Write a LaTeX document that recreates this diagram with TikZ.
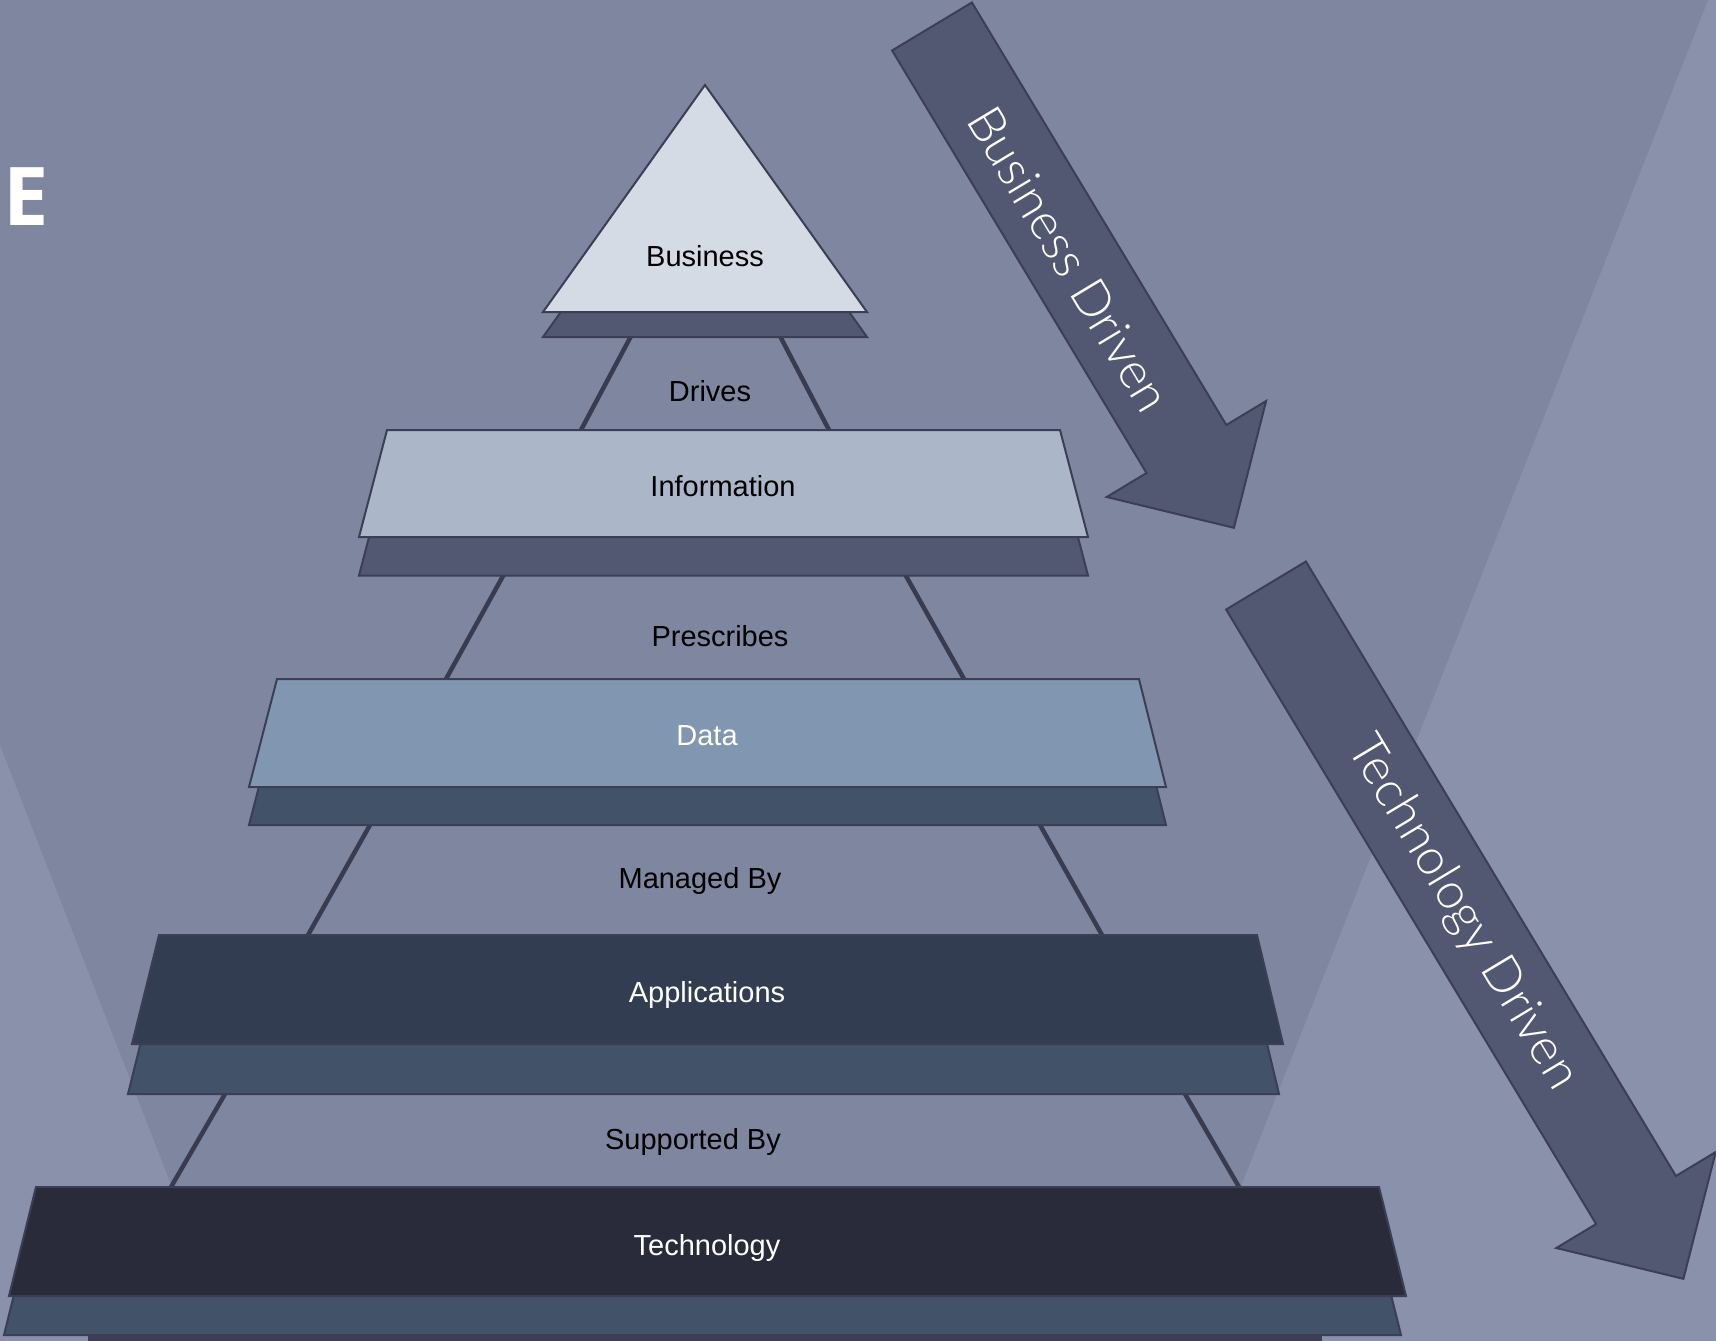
\documentclass[tikz,border=0pt]{standalone}
\usepackage{fontspec}
\setmainfont{Liberation Sans}
\newfontfamily\efont{Open Sans}
\IfFontExistsTF{Lato Light}{\newfontfamily\lightfont{Lato Light}}{\newfontfamily\lightfont{Liberation Sans}}
\usetikzlibrary{calc}
\definecolor{bgdark}{HTML}{7F87A0}
\definecolor{bglight}{HTML}{8A91AA}
\definecolor{outl}{HTML}{3B3E54}
\definecolor{connc}{HTML}{393C50}
\definecolor{arrfill}{HTML}{535872}
\definecolor{trifill}{HTML}{D5DBE5}
\definecolor{infofill}{HTML}{ABB6C9}
\definecolor{datafill}{HTML}{8196B0}
\definecolor{appfill}{HTML}{333D51}
\definecolor{techfill}{HTML}{292B3A}
\definecolor{shadowA}{HTML}{535872}
\definecolor{shadowB}{HTML}{425268}
\begin{document}
\begin{tikzpicture}[x=1pt,y=-1pt,
  layer/.style={draw=outl, line width=2pt, line join=miter},
  conn/.style={draw=connc, line width=4.5pt},
  lbl/.style={font=\fontsize{29}{34}\selectfont, inner sep=0pt},
  arrowshape/.style={fill=arrfill, draw=outl, line width=2pt, line join=miter},
  arrtext/.style={font=\lightfont\fontsize{50}{60}\selectfont, text=white, rotate=-59, inner sep=0pt}]
\useasboundingbox (0,0) rectangle (1716,1341);
% background
\fill[bglight] (0,0) rectangle (1716,1341);
\fill[bgdark] (0,0) -- (1708,0) -- (1180,1341) -- (232,1341) -- (0,745) -- cycle;

% title fragment
\node[font=\efont\bfseries\fontsize{81}{90}\selectfont, text=white, inner sep=0pt, anchor=base west] (title) at (3,225) {E};

% connector endpoints
\coordinate (b1) at (630,338); \coordinate (i1) at (581,430);
\coordinate (b2) at (781,338); \coordinate (i2) at (829,430);
\coordinate (i3) at (503,576); \coordinate (d1) at (446,679);
\coordinate (i4) at (906,576); \coordinate (d2) at (964,679);
\coordinate (d3) at (370,825); \coordinate (a1) at (308,935);
\coordinate (d4) at (1040,825); \coordinate (a2) at (1102,935);
\coordinate (a3) at (225,1094); \coordinate (t1) at (171,1187);
\coordinate (a4) at (1185,1094); \coordinate (t2) at (1239,1187);
\foreach \p/\q in {b1/i1,b2/i2,i3/d1,i4/d2,d3/a1,d4/a2,a3/t1,a4/t2}
  \draw[conn] ($(\p)!-8pt!(\q)$) -- ($(\q)!-6pt!(\p)$);

% bottom strip
\fill[outl] (88,1336) rectangle (1322,1345);

% Business triangle
\draw[layer, fill=shadowA] (705,110) -- (867,337) -- (543,337) -- cycle;
\draw[layer, fill=trifill] (705,85) -- (867,312) -- (543,312) -- cycle;
% Information
\draw[layer, fill=shadowA] (387,468.5) -- (1060,468.5) -- (1088,575.5) -- (359,575.5) -- cycle;
\draw[layer, fill=infofill] (387,430) -- (1060,430) -- (1088,537) -- (359,537) -- cycle;
% Data
\draw[layer, fill=shadowB] (277,717) -- (1139,717) -- (1166,825) -- (249,825) -- cycle;
\draw[layer, fill=datafill] (277,679) -- (1139,679) -- (1166,787) -- (249,787) -- cycle;
% Applications
\draw[layer, fill=shadowB] (155,985) -- (1253,985) -- (1279,1094) -- (128,1094) -- cycle;
\draw[layer, fill=appfill] (159,935) -- (1257,935) -- (1283,1044) -- (132,1044) -- cycle;
% Technology
\draw[layer, fill=shadowB] (31,1226) -- (1374,1226) -- (1401,1335) -- (4,1335) -- cycle;
\draw[layer, fill=techfill] (36,1187) -- (1379,1187) -- (1406,1296) -- (9,1296) -- cycle;

% labels
\node[lbl] (business) at (705,256) {Business};
\node[lbl] (drives) at (710,391) {Drives};
\node[lbl] (information) at (723,486) {Information};
\node[lbl] (prescribes) at (720,636) {Prescribes};
\node[lbl, text=white] (data) at (707,736) {Data};
\node[lbl] (managed) at (700,881) {Managed By};
\node[lbl, text=white] (applications) at (707,995) {Applications};
\node[lbl] (supported) at (693,1142) {Supported By};
\node[lbl, text=white] (technology) at (707,1248) {Technology};

% Business Driven arrow
\draw[arrowshape] (892.1,50.5) -- (971.9,2.5) -- (1226.3,425) -- (1266.1,401) -- (1233.9,527.8) -- (1106.7,497) -- (1146.5,473) -- cycle;
\node[arrtext] (bdriven) at (1069,259) {Business Driven};
% Technology Driven arrow
\draw[arrowshape] (1226.1,609.5) -- (1305.9,561.5) -- (1675.9,1176) -- (1715.7,1152) -- (1683.4,1278.8) -- (1556.3,1248) -- (1596.1,1224) -- cycle;
\node[arrtext] (tdriven) at (1462,913) {Technology Driven};
\end{tikzpicture}
\end{document}
